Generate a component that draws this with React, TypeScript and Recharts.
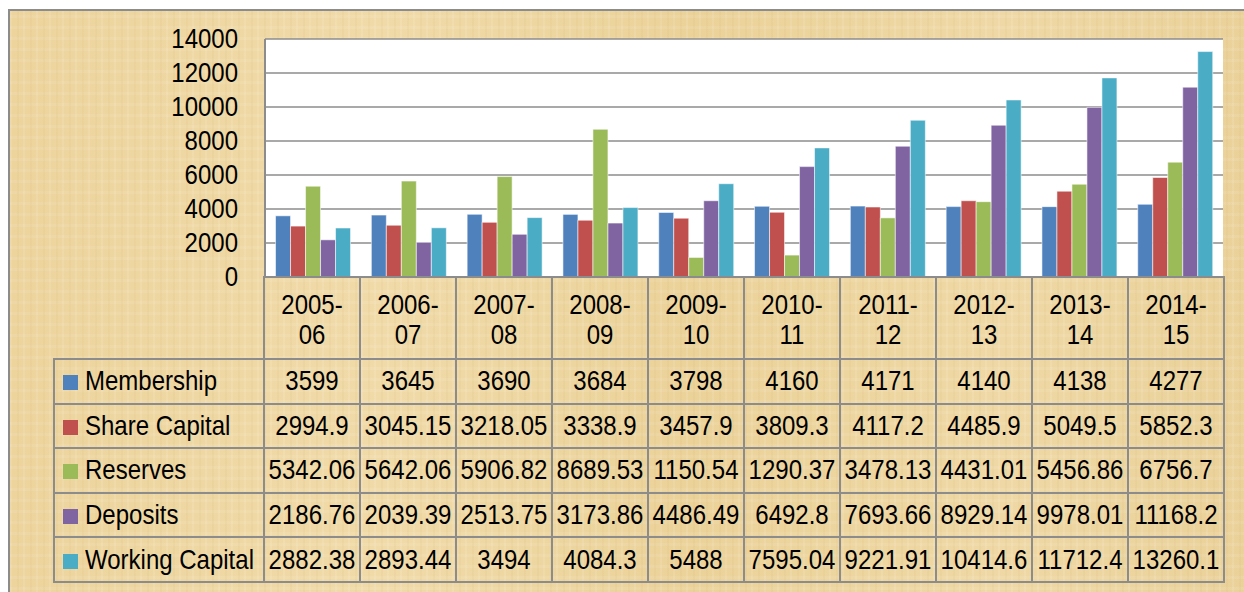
import React from 'react';
import { BarChart, Bar, XAxis, YAxis, CartesianGrid } from 'recharts';

// years (financial year)
const periods = ['2005-06', '2006-07', '2007-08', '2008-09', '2009-10', '2010-11', '2011-12', '2012-13', '2013-14', '2014-15'];

const membership = [3599, 3645, 3690, 3684, 3798, 4160, 4171, 4140, 4138, 4277];
const shareCapital = [2994.9, 3045.15, 3218.05, 3338.9, 3457.9, 3809.3, 4117.2, 4485.9, 5049.5, 5852.3];
const reserves = [5342.06, 5642.06, 5906.82, 8689.53, 1150.54, 1290.37, 3478.13, 4431.01, 5456.86, 6756.7];
const deposits = [2186.76, 2039.39, 2513.75, 3173.86, 4486.49, 6492.8, 7693.66, 8929.14, 9978.01, 11168.2];
const workingCapital = [2882.38, 2893.44, 3494, 4084.3, 5488, 7595.04, 9221.91, 10414.6, 11712.4, 13260.1];

const yTicks = [0, 2000, 4000, 6000, 8000, 10000, 12000, 14000];

const series = [
  { key: 'Membership', values: membership, color: '#4f81bd' },
  { key: 'Share Capital', values: shareCapital, color: '#c0504d' },
  { key: 'Reserves', values: reserves, color: '#9bbb59' },
  { key: 'Deposits', values: deposits, color: '#8064a2' },
  { key: 'Working Capital', values: workingCapital, color: '#4bacc6' },
];

const chartData = periods.map((p, i) => {
  const row: Record<string, string | number> = { period: p };
  series.forEach(s => { row[s.key] = s.values[i]; });
  return row;
});

const FONT = '"Liberation Sans", Arial, sans-serif';
const GRID = '#8c8c8c';
const STRETCH = 'scaleY(1.12)';

const parchment =
  'repeating-linear-gradient(90deg, rgba(255,255,255,0.10) 0px, rgba(255,255,255,0.10) 2px, transparent 2px, transparent 7px, rgba(190,150,80,0.06) 7px, rgba(190,150,80,0.06) 9px, transparent 9px, transparent 13px),' +
  'repeating-linear-gradient(0deg, rgba(255,255,255,0.08) 0px, rgba(255,255,255,0.08) 3px, transparent 3px, transparent 11px),' +
  'linear-gradient(90deg, #edd49d 0%, #f0daa8 30%, #ebd299 55%, #efd8a5 80%, #ead199 100%)';

const cellBorder = `2px solid ${GRID}`;

// y tick drawn a little taller, like the narrow office font in the source
const YTick = (props: any) => {
  const { x, y, payload } = props;
  return (
    <text
      transform={`translate(${x},${y}) scale(1,1.12)`}
      textAnchor="end"
      dy="0.35em"
      fill="#000"
      fontSize={24}
      fontFamily={FONT}
    >
      {payload.value}
    </text>
  );
};

const Tall = ({ children }: { children: React.ReactNode }) => (
  <span style={{ display: 'inline-block', transform: STRETCH }}>{children}</span>
);

export default function App() {
  return (
    <div style={{ position: 'absolute', left: 0, top: 0, width: 1244, height: 592, background: '#fff', overflow: 'hidden', fontFamily: FONT }}>
      {/* framed parchment panel */}
      <div
        style={{
          position: 'absolute', left: 8, top: 9, width: 1240, height: 590,
          borderLeft: `2px solid ${GRID}`, borderTop: `2px solid ${GRID}`,
          background: parchment,
        }}
      />

      <div style={{ position: 'absolute', left: 0, top: 0 }}>
        <BarChart
          width={1244}
          height={300}
          data={chartData}
          margin={{ top: 39, right: 21, bottom: 23, left: 175 }}
          barCategoryGap="11%"
          barGap={0}
        >
          <CartesianGrid vertical={false} stroke={GRID} strokeWidth={1.6} fill="#ffffff" fillOpacity={1} />
          <XAxis dataKey="period" hide />
          <YAxis
            width={90}
            domain={[0, 14000]}
            ticks={yTicks}
            interval={0}
            tickLine={false}
            tickSize={0}
            tickMargin={27}
            axisLine={{ stroke: GRID, strokeWidth: 2 }}
            tick={<YTick />}
          />
          {series.map(s => (
            <Bar
              key={s.key}
              dataKey={s.key}
              fill={s.color}
              stroke="rgba(255,255,255,0.55)"
              strokeWidth={1}
              isAnimationActive={false}
            />
          ))}
        </BarChart>
      </div>

      {/* data table under the chart */}
      <table
        style={{
          position: 'absolute', left: 53, top: 276, width: 1170,
          borderCollapse: 'collapse', tableLayout: 'fixed',
          fontFamily: FONT, fontSize: 24, color: '#000',
        }}
      >
        <colgroup>
          <col style={{ width: 210 }} />
          {periods.map(p => <col key={p} style={{ width: 96 }} />)}
        </colgroup>
        <tbody>
          <tr style={{ height: 82 }}>
            <td style={{ border: 'none' }} />
            {periods.map(p => {
              const [a, b] = p.split('-');
              return (
                <td key={p} style={{ border: cellBorder, textAlign: 'center', lineHeight: '30px', padding: '4px 0 0 0' }}>
                  <div><Tall>{a}-</Tall></div>
                  <div><Tall>{b}</Tall></div>
                </td>
              );
            })}
          </tr>
          {series.map(s => (
            <tr key={s.key} style={{ height: 44.6 }}>
              <td style={{ border: cellBorder, padding: '0 0 0 8px', whiteSpace: 'nowrap' }}>
                <span style={{ display: 'inline-block', width: 15, height: 15, background: s.color, marginRight: 7, verticalAlign: -1 }} />
                <Tall>{s.key}</Tall>
              </td>
              {s.values.map((v, i) => (
                <td key={i} style={{ border: cellBorder, textAlign: 'center', padding: 0, whiteSpace: 'nowrap' }}>
                  <Tall>{v}</Tall>
                </td>
              ))}
            </tr>
          ))}
        </tbody>
      </table>
    </div>
  );
}
